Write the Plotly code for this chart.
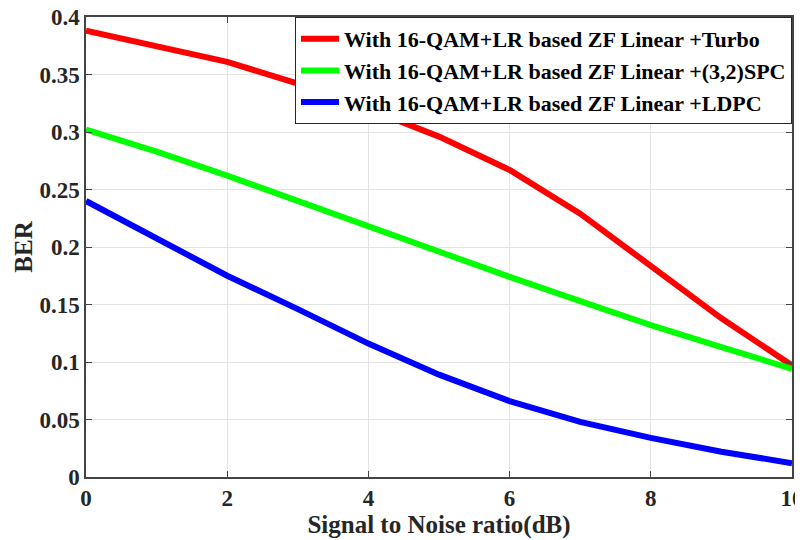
import plotly.graph_objects as go

snr = [0, 1, 2, 3, 4, 5, 6, 7, 8, 9, 10]
ber_turbo = [0.388, 0.375, 0.361, 0.342, 0.320, 0.296, 0.267, 0.229, 0.184, 0.138, 0.097]
ber_spc = [0.302, 0.283, 0.262, 0.240, 0.217, 0.196, 0.174, 0.153, 0.132, 0.113, 0.094]
ber_ldpc = [0.240, 0.207, 0.175, 0.146, 0.116, 0.089, 0.066, 0.048, 0.034, 0.022, 0.012]

names = [
    "With 16-QAM+LR based ZF Linear +Turbo",
    "With 16-QAM+LR based ZF Linear +(3,2)SPC",
    "With 16-QAM+LR based ZF Linear +LDPC",
]
colors = ["#ff0000", "#00ff00", "#0000ff"]
series = [ber_turbo, ber_spc, ber_ldpc]

fig = go.Figure()
for n, c, s in zip(names, colors, series):
    fig.add_trace(go.Scatter(x=snr, y=s, mode="lines", name=n,
                             line=dict(color=c, width=6)))

font_family = "Liberation Serif"
# page body has an 8px default margin; figure sized to fill the rest of the window
fig.update_layout(
    width=795, height=532,
    margin=dict(l=78, r=11, t=9, b=63),
    paper_bgcolor="white", plot_bgcolor="white",
    font=dict(family=font_family, color="#262626"),
    legend=dict(x=1, xanchor="right", y=1, yanchor="top",
                bordercolor="#262626", borderwidth=1, bgcolor="white",
                font=dict(family=font_family, size=22, color="black", weight="bold"),
                tracegroupgap=0, itemwidth=38),
    showlegend=True,
)
fig.update_xaxes(
    range=[0, 10], tickvals=[0, 2, 4, 6, 8, 10], ticks="inside", ticklen=6,
    showline=True, linecolor="#444", linewidth=1.5, mirror="ticks",
    showgrid=True, gridcolor="#e3e3e3", gridwidth=1, zeroline=False,
    automargin=False, ticklabeloverflow="allow",
    tickfont=dict(family=font_family, size=23, color="#262626", weight="bold"),
    title=dict(text="Signal to Noise ratio(dB)", standoff=0,
               font=dict(family=font_family, size=25, color="#262626", weight="bold")),
)
fig.update_yaxes(
    range=[0, 0.4], dtick=0.05, ticks="inside", ticklen=6,
    showline=True, linecolor="#444", linewidth=1.5, mirror="ticks",
    showgrid=True, gridcolor="#e3e3e3", gridwidth=1, zeroline=False,
    automargin=False, ticklabeloverflow="allow",
    tickformat="~g",
    tickfont=dict(family=font_family, size=23, color="#262626", weight="bold"),
    title=dict(text="BER", standoff=0,
               font=dict(family=font_family, size=25, color="#262626", weight="bold")),
)

fig.write_html("out.html")
